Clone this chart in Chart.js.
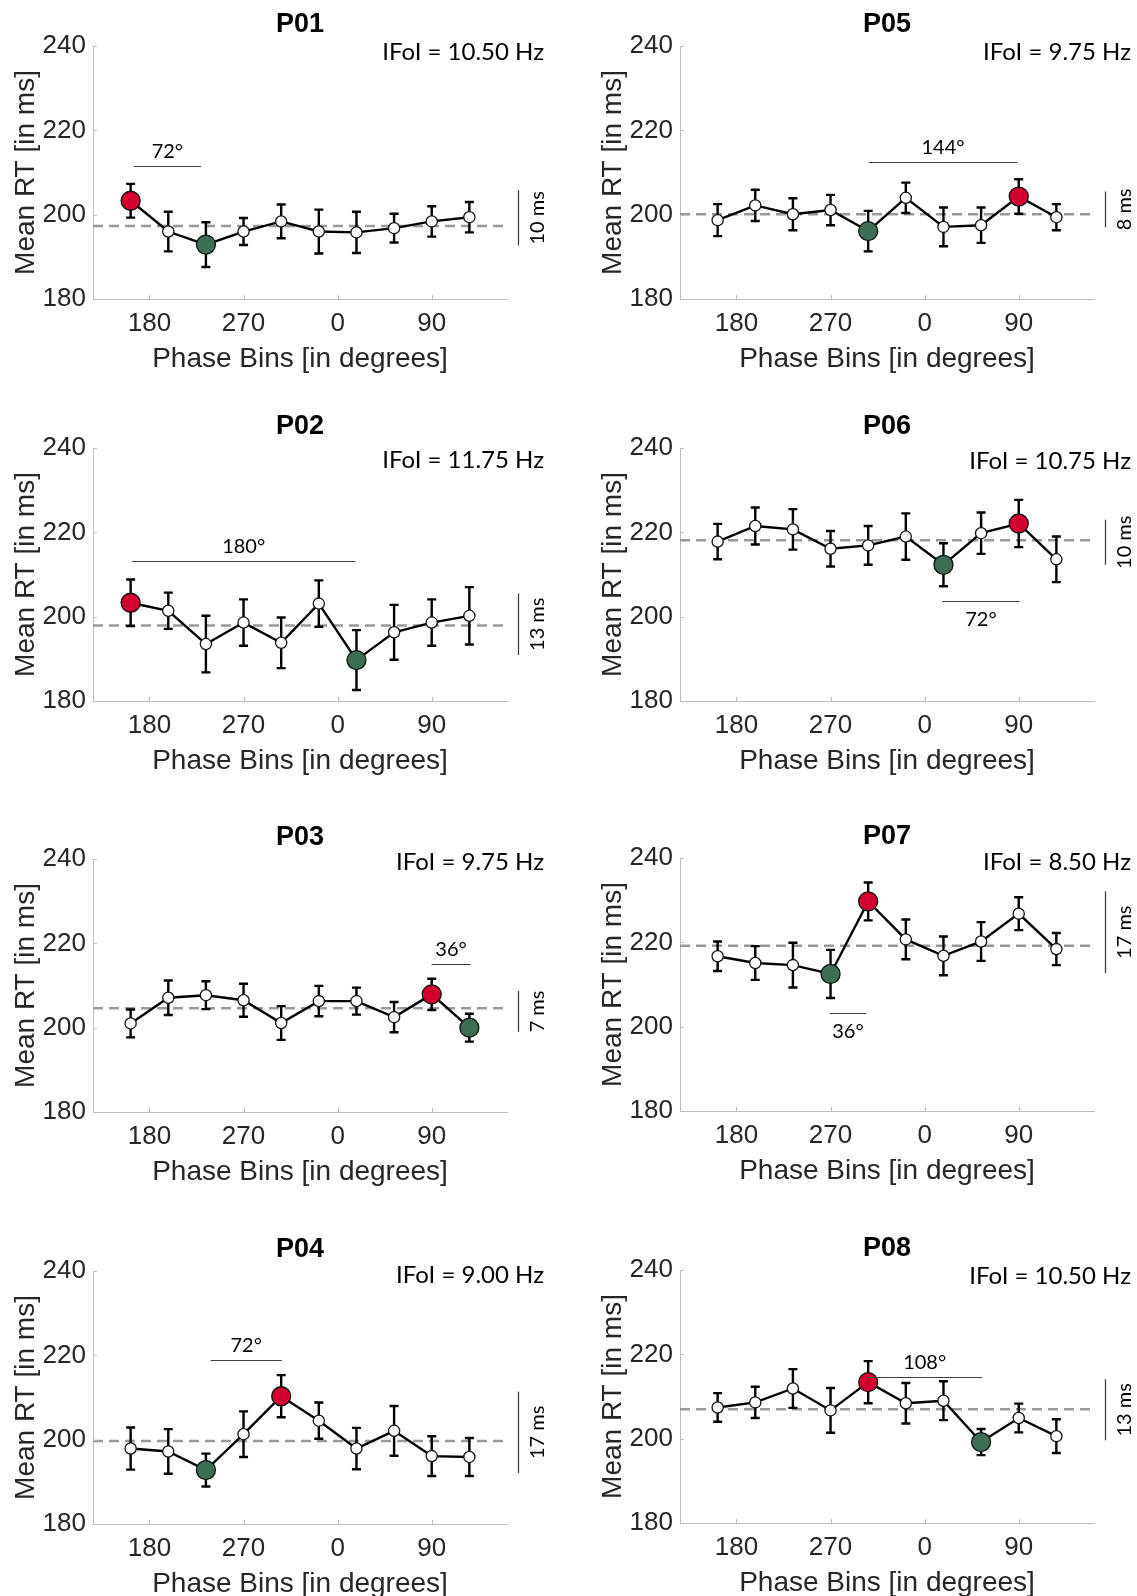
<!DOCTYPE html>
<html>
<head>
<meta charset="utf-8">
<script src="https://cdn.jsdelivr.net/npm/chart.js@4.4.1/dist/chart.umd.min.js"></script>
<style>
  html, body { margin: 0; padding: 0; background: #fff; width: 1137px; height: 1596px; overflow: hidden; position: relative; }
  canvas { position: absolute; }
</style>
</head>
<body>
<script>
// ---------------- DATA ----------------
const participants = ['P01', 'P02', 'P03', 'P04', 'P05', 'P06', 'P07', 'P08'];
const ifoiHz = ['10.50', '11.75', '9.75', '9.00', '9.75', '10.75', '8.50', '10.50'];

// phase-bin centres (degrees, unwrapped so the axis runs 180 -> 270 -> 0 -> 90)
const phaseBins = [162, 198, 234, 270, 306, 342, 378, 414, 450, 486];
const phaseRange = [126, 522];
const xTickValues = [180, 270, 360, 450];
const xTickLabels = ['180', '270', '0', '90'];
const yTickValues = [180, 200, 220, 240];

const rtP01 = [203.3, 196.0, 192.9, 196.0, 198.4, 196.0, 195.8, 196.8, 198.4, 199.4];
const errP01 = [4.0, 4.7, 5.3, 3.2, 4.0, 5.2, 4.9, 3.4, 3.6, 3.6];
const rtP02 = [203.3, 201.4, 193.5, 198.6, 193.8, 203.1, 189.7, 196.3, 198.6, 200.2];
const errP02 = [5.5, 4.3, 6.7, 5.5, 6.0, 5.5, 7.1, 6.5, 5.5, 6.8];
const rtP03 = [201.0, 207.1, 207.7, 206.5, 201.1, 206.3, 206.3, 202.5, 207.9, 200.0];
const errP03 = [3.3, 4.1, 3.3, 3.9, 4.0, 3.6, 3.2, 3.6, 3.7, 3.3];
const rtP04 = [197.9, 197.2, 192.8, 201.3, 210.3, 204.5, 197.9, 202.1, 196.1, 195.9];
const errP04 = [5.0, 5.3, 3.9, 5.4, 5.0, 4.3, 4.9, 5.9, 4.7, 4.5];
const rtP05 = [198.7, 202.2, 200.1, 201.1, 196.1, 204.0, 197.1, 197.5, 204.3, 199.4];
const errP05 = [3.8, 3.7, 3.8, 3.6, 4.8, 3.6, 4.6, 4.2, 4.1, 3.1];
const rtP06 = [217.8, 221.5, 220.7, 216.1, 216.9, 219.0, 212.3, 219.8, 222.1, 213.6];
const errP06 = [4.2, 4.4, 4.8, 4.2, 4.6, 5.5, 5.1, 4.9, 5.6, 5.4];
const rtP07 = [216.7, 215.1, 214.6, 212.5, 229.7, 220.7, 216.8, 220.2, 226.8, 218.4];
const errP07 = [3.5, 4.0, 5.3, 5.7, 4.5, 4.7, 4.6, 4.6, 3.9, 3.8];
const rtP08 = [207.4, 208.6, 211.9, 206.7, 213.4, 208.4, 209.0, 199.2, 204.9, 200.6];
const errP08 = [3.4, 3.7, 4.6, 5.3, 5.0, 4.8, 4.6, 3.1, 3.4, 4.0];

const rtSeries = [rtP01, rtP02, rtP03, rtP04, rtP05, rtP06, rtP07, rtP08];
const errSeries = [errP01, errP02, errP03, errP04, errP05, errP06, errP07, errP08];
const meanRT = [197.3, 197.9, 204.6, 199.7, 200.1, 218.1, 219.2, 207.0];
const peakBin = [0, 0, 8, 4, 8, 8, 4, 4];
const troughBin = [2, 6, 9, 2, 4, 6, 3, 7];

// peak-to-trough distance annotation
const spanLabel = ['72°', '180°', '36°', '72°', '144°', '72°', '36°', '108°'];
const spanStart = [164.9, 163.5, 449.8, 238.6, 306.7, 377.0, 269.2, 305.3];
const spanEnd = [229.4, 376.8, 487.2, 306.5, 448.5, 450.8, 304.2, 414.8];
const spanLevel = [211.6, 213.2, 215.1, 218.9, 212.4, 203.6, 203.2, 214.7];
const spanTextBelow = [false, false, false, false, false, true, true, false];

// amplitude scale bar annotation
const rangeLabel = ['10 ms', '13 ms', '7 ms', '17 ms', '8 ms', '10 ms', '17 ms', '13 ms'];
const rangeLow = [192.7, 190.9, 199.0, 192.1, 197.0, 212.3, 212.7, 199.6];
const rangeHigh = [205.8, 205.5, 208.7, 211.4, 205.5, 223.0, 232.1, 214.1];

// vertical level of the IFoI label
const ifoiLevel = [238.6, 237.2, 239.2, 239.0, 238.6, 236.8, 239.05, 238.6];

// ---------------- STYLE / LAYOUT ----------------
const RED = '#d2002c';
const GREEN = '#3b6e53';
const AXIS = '#bdbdbd';
const TXT = '#262626';
const plotTopLeft = [46, 448, 859, 1271];
const plotTopRight = [46, 448, 858, 1270];
const PLOT_H = 253;
const TOP_SPACE = 46;
const X_AXIS_H = 78;
const Y_AXIS_W = 84;
const ANNOT_FONT = 'Lato, "Open Sans", sans-serif';

Chart.defaults.font.family = '"Liberation Sans", Arial, sans-serif';

function decorPlugin(i) {
  return {
    id: 'decor' + i,
    afterDatasetDraw(chart, args) {
      if (args.index !== 1) return; // after the dashed mean line, before the main series
      const meta = chart.getDatasetMeta(0);
      const ys = chart.scales.y;
      const ctx = chart.ctx;
      ctx.save();
      ctx.strokeStyle = '#000';
      ctx.lineWidth = 2.4;
      meta.data.forEach((pt, k) => {
        const v = rtSeries[i][k], e = errSeries[i][k];
        const yt = ys.getPixelForValue(v + e), yb = ys.getPixelForValue(v - e);
        ctx.beginPath();
        ctx.moveTo(pt.x, yt); ctx.lineTo(pt.x, yb);
        ctx.moveTo(pt.x - 4.5, yt); ctx.lineTo(pt.x + 4.5, yt);
        ctx.moveTo(pt.x - 4.5, yb); ctx.lineTo(pt.x + 4.5, yb);
        ctx.stroke();
      });
      ctx.restore();
    },
    afterDraw(chart) {
      const ctx = chart.ctx;
      const xs = chart.scales.x, ys = chart.scales.y;
      const ca = chart.chartArea;
      ctx.save();
      // inward tick marks
      ctx.strokeStyle = AXIS;
      ctx.lineWidth = 1;
      ctx.beginPath();
      xTickValues.forEach(v => {
        const px = Math.round(xs.getPixelForValue(v)) + 0.5;
        ctx.moveTo(px, ca.bottom); ctx.lineTo(px, ca.bottom - 4);
      });
      yTickValues.forEach(v => {
        const py = Math.round(ys.getPixelForValue(v)) + 0.5;
        ctx.moveTo(ca.left, py); ctx.lineTo(ca.left + 4, py);
      });
      ctx.stroke();

      // IFoI label
      ctx.fillStyle = '#000';
      ctx.font = '24px ' + ANNOT_FONT;
      ctx.textAlign = 'right';
      ctx.textBaseline = 'middle';
      ctx.fillText('IFoI = ' + ifoiHz[i] + ' Hz', ca.right + 37, ys.getPixelForValue(ifoiLevel[i]));

      // span line and label
      const sx0 = xs.getPixelForValue(spanStart[i]);
      const sx1 = xs.getPixelForValue(spanEnd[i]);
      const sy = Math.round(ys.getPixelForValue(spanLevel[i])) + 0.5;
      ctx.strokeStyle = '#3a3a3a';
      ctx.lineWidth = 1.2;
      ctx.beginPath();
      ctx.moveTo(sx0, sy); ctx.lineTo(sx1, sy);
      ctx.stroke();
      ctx.font = '20px ' + ANNOT_FONT;
      ctx.textAlign = 'center';
      ctx.fillText(spanLabel[i], (sx0 + sx1) / 2, sy + (spanTextBelow[i] ? 18 : -15));

      // amplitude scale bar
      const bx = Math.round(ca.right + 10.5) + 0.5;
      const by0 = ys.getPixelForValue(rangeLow[i]);
      const by1 = ys.getPixelForValue(rangeHigh[i]);
      ctx.strokeStyle = '#333';
      ctx.lineWidth = 1.2;
      ctx.beginPath();
      ctx.moveTo(bx, by0); ctx.lineTo(bx, by1);
      ctx.stroke();
      ctx.translate(ca.right + 30.5, (by0 + by1) / 2);
      ctx.rotate(-Math.PI / 2);
      ctx.textAlign = 'center';
      ctx.textBaseline = 'middle';
      ctx.fillText(rangeLabel[i], 0, 0);
      ctx.restore();
    }
  };
}

function makePanel(i) {
  const col = i < 4 ? 0 : 1;
  const row = i % 4;
  const top = col === 0 ? plotTopLeft[row] : plotTopRight[row];
  const plotLeft = col === 0 ? 93 : 680;
  const plotRight = col === 0 ? 507 : 1094;
  const cx = col === 0 ? 0 : 560;
  const cw = col === 0 ? 590 : 577;
  const cy = top - TOP_SPACE;
  const ch = TOP_SPACE + PLOT_H + X_AXIS_H;

  const canvas = document.createElement('canvas');
  canvas.width = cw; canvas.height = ch;
  canvas.style.left = cx + 'px'; canvas.style.top = cy + 'px';
  canvas.style.width = cw + 'px'; canvas.style.height = ch + 'px';
  document.body.appendChild(canvas);

  const pk = peakBin[i], tr = troughBin[i];
  new Chart(canvas.getContext('2d'), {
    type: 'line',
    data: {
      datasets: [
        {
          data: phaseBins.map((x, k) => ({ x: x, y: rtSeries[i][k] })),
          borderColor: '#000',
          borderWidth: 2.4,
          tension: 0,
          pointRadius: c => (c.dataIndex === pk || c.dataIndex === tr) ? 9.5 : 5.6,
          pointBackgroundColor: c => c.dataIndex === pk ? RED : (c.dataIndex === tr ? GREEN : '#fff'),
          pointBorderColor: '#111',
          pointBorderWidth: 1.3,
          order: 0,
          clip: false
        },
        {
          data: [{ x: phaseRange[0], y: meanRT[i] }, { x: phaseRange[1], y: meanRT[i] }],
          borderColor: '#999999',
          borderWidth: 2.5,
          borderDash: [10, 6],
          pointRadius: 0,
          order: 1
        }
      ]
    },
    options: {
      responsive: false,
      animation: false,
      devicePixelRatio: 1,
      events: [],
      layout: { padding: { left: plotLeft - cx - Y_AXIS_W, right: cx + cw - plotRight, top: 0, bottom: 0 } },
      plugins: {
        legend: { display: false },
        tooltip: { enabled: false },
        title: {
          display: true,
          text: participants[i],
          fullSize: false,
          color: '#000',
          font: { size: 27, weight: 'bold', lineHeight: 1.2 },
          padding: { top: 8.8, bottom: 4.8 }
        }
      },
      scales: {
        x: {
          type: 'linear',
          position: 'bottom',
          min: phaseRange[0],
          max: phaseRange[1],
          afterBuildTicks: s => { s.ticks = xTickValues.map(v => ({ value: v })); },
          afterFit: s => { s.height = X_AXIS_H; },
          ticks: {
            callback: v => xTickLabels[xTickValues.indexOf(v)],
            autoSkip: false, maxRotation: 0,
            font: { size: 26 }, color: TXT, padding: 9.5
          },
          grid: { display: false, drawTicks: false },
          border: { display: true, color: AXIS, width: 1 },
          title: {
            display: true, text: 'Phase Bins [in degrees]', color: TXT,
            font: { size: 28 }, padding: { top: 0, bottom: 0.7 }
          }
        },
        y: {
          type: 'linear',
          min: 180,
          max: 240,
          afterBuildTicks: s => { s.ticks = yTickValues.map(v => ({ value: v })); },
          afterFit: s => { s.width = Y_AXIS_W; },
          ticks: { font: { size: 26 }, color: TXT, padding: 7 },
          grid: { display: false, drawTicks: false },
          border: { display: true, color: AXIS, width: 1 },
          title: {
            display: true, text: 'Mean RT [in ms]', color: TXT,
            font: { size: 28 }, padding: { top: 0.2, bottom: 0 }
          }
        }
      }
    },
    plugins: [decorPlugin(i)]
  });
}

participants.forEach((p, i) => makePanel(i));
</script>
</body>
</html>
